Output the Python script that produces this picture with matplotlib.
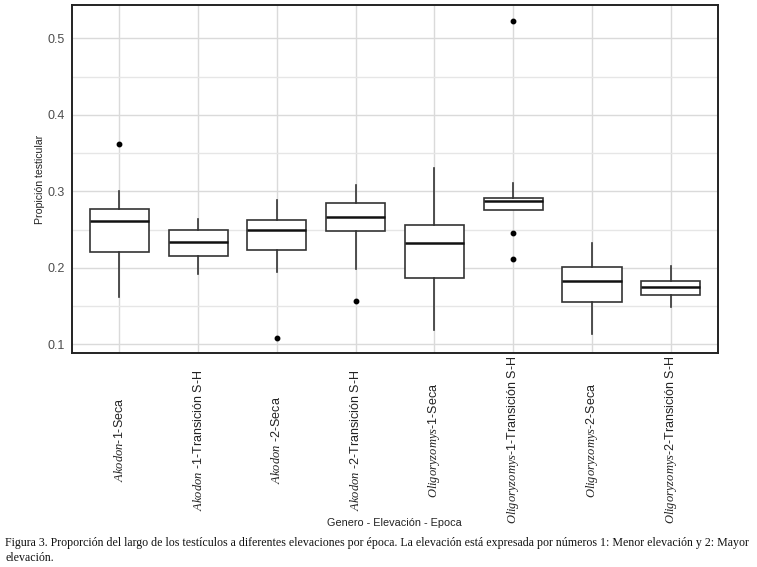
import matplotlib
matplotlib.use("Agg")
import matplotlib.pyplot as plt
from matplotlib.ticker import MultipleLocator

plt.rcParams['font.family'] = ['Liberation Sans', 'DejaVu Sans']
plt.rcParams['mathtext.fontset'] = 'custom'
plt.rcParams['mathtext.it'] = 'Liberation Serif:italic'
plt.rcParams['mathtext.rm'] = 'Liberation Sans'

# categories: genus (italic) + rest of label
genus = ["Akodon", "Akodon", "Akodon", "Akodon",
         "Oligoryzomys", "Oligoryzomys", "Oligoryzomys", "Oligoryzomys"]
rest = ["-1-Seca", " -1-Transición S-H", " -2-Seca", " -2-Transición S-H",
        "-1-Seca", "-1-Transición S-H", "-2-Seca", "-2-Transición S-H"]

# box stats
whislo = [0.162, 0.192, 0.194, 0.198, 0.118, 0.2755, 0.114, 0.149]
q1     = [0.221, 0.215, 0.223, 0.248, 0.186, 0.2755, 0.155, 0.164]
med    = [0.261, 0.234, 0.250, 0.266, 0.233, 0.287, 0.183, 0.175]
q3     = [0.277, 0.249, 0.263, 0.285, 0.256, 0.291, 0.201, 0.183]
whishi = [0.300, 0.264, 0.289, 0.308, 0.330, 0.311, 0.232, 0.202]
outliers = [[0.362], [], [0.108], [0.157], [], [0.523, 0.246, 0.212], [], []]

stats = []
for i in range(len(genus)):
    stats.append(dict(whislo=whislo[i], q1=q1[i], med=med[i], q3=q3[i],
                      whishi=whishi[i], fliers=outliers[i]))

fig = plt.figure(figsize=(7.57, 5.67), dpi=100)
ax = fig.add_axes([0.0951, 0.378, 0.8534, 0.613])

positions = list(range(1, len(genus) + 1))
ax.bxp(stats, positions=positions, widths=0.75, showcaps=False, patch_artist=True,
       boxprops=dict(facecolor='white', edgecolor='#333333', linewidth=1.2),
       whiskerprops=dict(color='#333333', linewidth=1.2),
       medianprops=dict(color='#111111', linewidth=1.8),
       flierprops=dict(marker='o', markersize=3.2, markerfacecolor='black',
                       markeredgecolor='black'),
       zorder=3)

ax.set_xlim(0.4, 8.6)
ax.set_ylim(0.089, 0.5435)
ax.yaxis.set_major_locator(MultipleLocator(0.1))
ax.yaxis.set_minor_locator(MultipleLocator(0.05))
ax.set_yticks([0.1, 0.2, 0.3, 0.4, 0.5])
ax.set_yticklabels(["0.1", "0.2", "0.3", "0.4", "0.5"])

ax.grid(True, which='major', color='#dadada', linewidth=1.0, zorder=0)
ax.grid(True, which='minor', axis='y', color='#e6e6e6', linewidth=1.0, zorder=0)
ax.set_axisbelow(True)

labels = [r"$\mathit{%s}$%s" % (g, r) for g, r in zip(genus, rest)]
ax.set_xticks(positions)
ax.set_xticklabels(labels, rotation=90, va='center', ha='center')
ax.tick_params(axis='x', length=0, pad=62.9, labelsize=9, labelcolor='#222222')
ax.tick_params(axis='y', which='both', length=0, pad=5, labelsize=9, labelcolor='#4d4d4d')

for sp in ax.spines.values():
    sp.set_color('#222222')
    sp.set_linewidth(1.4)

ax.set_ylabel("Propición testicular", fontsize=7.6, color='#222222', labelpad=2)
fig.text(0.521, 1 - 523 / 567, "Genero - Elevación - Epoca", ha='center', va='center',
         fontsize=7.8, color='#222222')

caption1 = ("Figura 3. Proporción del largo de los testículos a diferentes elevaciones por época. "
            "La elevación está expresada por números 1: Menor elevación y 2: Mayor")
caption2 = "elevación."
fig.text(5 / 757, 1 - 543 / 567, caption1, ha='left', va='center', fontsize=8.6,
         family='Liberation Serif', color='#111111')
fig.text(5 / 757, 1 - 558 / 567, caption2, ha='left', va='center', fontsize=8.6,
         family='Liberation Serif', color='#111111')

fig.savefig("out.png", dpi=100)
